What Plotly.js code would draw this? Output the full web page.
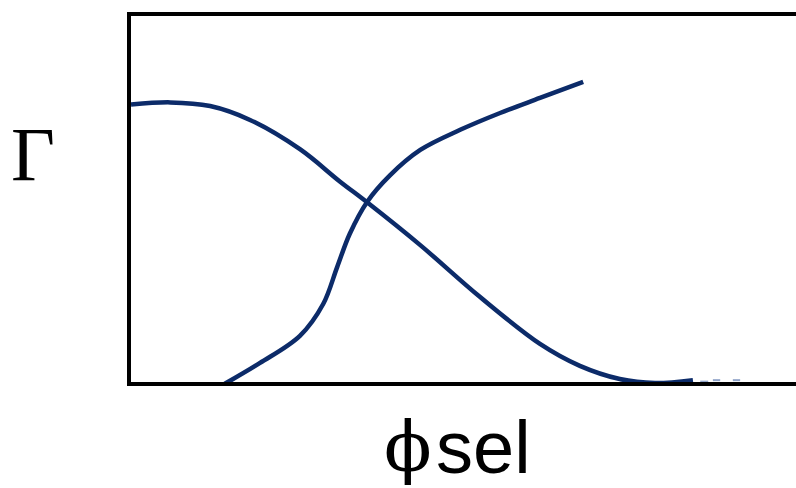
<!DOCTYPE html>
<html>
<head>
<meta charset="utf-8">
<script src="https://cdn.plot.ly/plotly-3.0.1.min.js"></script>
<style>
  html, body { margin: 0; padding: 0; background: #ffffff; }
  #chart { width: 796px; height: 488px; }
</style>
</head>
<body>
<div id="chart"></div>
<script>
// Falling curve: Γ as a function of φsel (normalised units)
const fallX = [0.000, 0.059, 0.119, 0.179, 0.254, 0.314, 0.355, 0.435, 0.525, 0.615,
               0.675, 0.735, 0.788, 0.845];
const fallY = [0.758, 0.764, 0.754, 0.716, 0.636, 0.548, 0.491, 0.374, 0.232, 0.104,
               0.044, 0.008, -0.003, 0.005];

// Faint broken tail of the falling curve
const tailX = [0.856, 0.868, null, 0.875, 0.886, null, 0.905, 0.916];
const tailY = [0.001, 0.001, null, 0.005, 0.005, null, 0.005, 0.005];

// Rising curve
const riseX = [0.141, 0.194, 0.254, 0.289, 0.310, 0.329, 0.355, 0.389, 0.435, 0.495,
               0.555, 0.615, 0.680];
const riseY = [-0.005, 0.052, 0.126, 0.213, 0.314, 0.405, 0.492, 0.564, 0.634, 0.689,
               0.735, 0.776, 0.820];

const yLabel = 'Γ';
const xSymbol = 'ϕ';
const xSuffix = 'sel';

const navy = '#0c2b69';

const traces = [
  { x: fallX, y: fallY, mode: 'lines', line: { color: navy, width: 4.5, shape: 'spline', smoothing: 1 }, hoverinfo: 'skip' },
  { x: tailX, y: tailY, mode: 'lines', line: { color: '#8fa3c8', width: 2 }, connectgaps: false, hoverinfo: 'skip' },
  { x: riseX, y: riseY, mode: 'lines', line: { color: navy, width: 4.5, shape: 'spline', smoothing: 1 }, hoverinfo: 'skip' }
];

const axisBase = {
  showgrid: false, zeroline: false, showticklabels: false, ticks: '',
  showline: true, linecolor: '#000000', linewidth: 4, fixedrange: true
};

const layout = {
  width: 796, height: 488,
  margin: { l: 131, r: 0, t: 16, b: 106, pad: 0 },
  paper_bgcolor: '#ffffff', plot_bgcolor: '#ffffff',
  showlegend: false,
  xaxis: Object.assign({}, axisBase, { range: [0, 1], mirror: true }),
  yaxis: Object.assign({}, axisBase, { range: [0, 1], mirror: false }),
  annotations: [
    { xref: 'paper', yref: 'paper', x: -0.147, y: 0.622, xanchor: 'center', yanchor: 'middle',
      text: yLabel, showarrow: false,
      font: { family: 'Liberation Serif, Times New Roman, serif', size: 76, color: '#000000' } },
    { xref: 'paper', yref: 'paper', x: 0.456, y: -0.178, xanchor: 'right', yanchor: 'middle',
      text: xSymbol, showarrow: false,
      font: { family: 'DejaVu Serif, serif', size: 70, color: '#000000' } },
    { xref: 'paper', yref: 'paper', x: 0.456, y: -0.178, xanchor: 'left', yanchor: 'middle',
      text: xSuffix, showarrow: false,
      font: { family: 'Liberation Sans, Arial, sans-serif', size: 74, color: '#000000' } }
  ]
};

Plotly.newPlot('chart', traces, layout, { staticPlot: true, displayModeBar: false });
</script>
</body>
</html>
